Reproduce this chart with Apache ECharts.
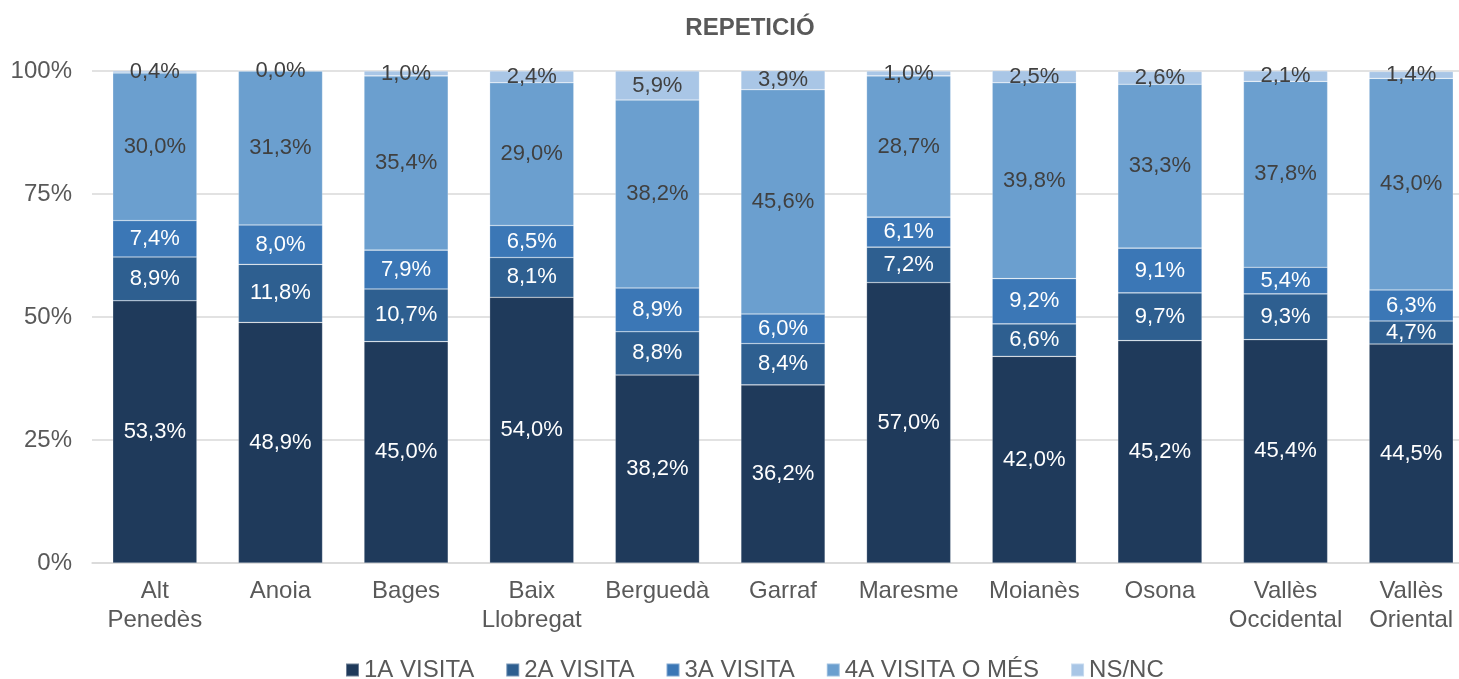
<!DOCTYPE html>
<html>
<head>
<meta charset="utf-8">
<script src="https://cdn.jsdelivr.net/npm/echarts@6/dist/echarts.min.js"></script>
<style>
  html, body { margin: 0; padding: 0; background: #fff; overflow: hidden; }
  #chart { width: 1474px; height: 679px; }
</style>
</head>
<body>
<div id="chart"></div>
<script>
// comarques
const categories = ['Alt\nPenedès', 'Anoia', 'Bages', 'Baix\nLlobregat', 'Berguedà', 'Garraf',
  'Maresme', 'Moianès', 'Osona', 'Vallès\nOccidental', 'Vallès\nOriental'];

const visita1 = [53.3, 48.9, 45.0, 54.0, 38.2, 36.2, 57.0, 42.0, 45.2, 45.4, 44.5];
const visita2 = [8.9, 11.8, 10.7, 8.1, 8.8, 8.4, 7.2, 6.6, 9.7, 9.3, 4.7];
const visita3 = [7.4, 8.0, 7.9, 6.5, 8.9, 6.0, 6.1, 9.2, 9.1, 5.4, 6.3];
const visita4 = [30.0, 31.3, 35.4, 29.0, 38.2, 45.6, 28.7, 39.8, 33.3, 37.8, 43.0];
const nsnc = [0.4, 0.0, 1.0, 2.4, 5.9, 3.9, 1.0, 2.5, 2.6, 2.1, 1.4];

const yTicks = [0, 25, 50, 75, 100];

const FONT = '"Liberation Sans", Arial, sans-serif';
const GREY = '#595959';

function pct(v) {
  return v.toFixed(1).replace('.', ',') + '%';
}

function makeSeries(name, data, color, labelColor) {
  return {
    name: name,
    type: 'bar',
    stack: 'total',
    barCategoryGap: '33%',
    data: data,
    itemStyle: { color: color, borderColor: 'rgba(255,255,255,0.35)', borderWidth: 0.6 },
    label: {
      show: true,
      position: 'inside',
      color: labelColor,
      fontFamily: FONT,
      fontSize: 22,
      formatter: p => pct(p.value)
    }
  };
}

let myChart = echarts.init(document.getElementById('chart'));

// the plot runs past the right edge of the window, like in the original
myChart.setOption({
  animation: false,
  title: {
    text: 'REPETICIÓ',
    left: 745,
    textAlign: 'center',
    top: 11,
    textStyle: { fontFamily: FONT, fontSize: 24, fontWeight: 'bold', color: GREY }
  },
  legend: {
    bottom: -8,
    left: 340,
    itemWidth: 13,
    itemHeight: 13,
    itemGap: 31,
    icon: 'rect',
    textStyle: { fontFamily: FONT, fontSize: 24, color: GREY },
    data: ['1A VISITA', '2A VISITA', '3A VISITA', '4A VISITA O MÉS', 'NS/NC']
  },
  grid: { left: 92, right: 0, top: 71, bottom: 116, containLabel: false },
  xAxis: {
    type: 'category',
    data: categories,
    axisTick: { show: false },
    axisLine: { lineStyle: { color: '#d9d9d9', width: 1.5 } },
    axisLabel: {
      fontFamily: FONT, fontSize: 24, color: GREY, margin: 14, lineHeight: 29, interval: 0
    }
  },
  yAxis: {
    type: 'value',
    min: yTicks[0],
    max: yTicks[yTicks.length - 1],
    interval: 25,
    axisLine: { show: false },
    axisTick: { show: false },
    splitLine: { lineStyle: { color: '#d9d9d9', width: 1.5 } },
    axisLabel: {
      fontFamily: FONT, fontSize: 24, color: GREY, margin: 20,
      formatter: v => v + '%'
    }
  },
  series: [
    makeSeries('1A VISITA', visita1, '#1f3a5b', '#ffffff'),
    makeSeries('2A VISITA', visita2, '#2e5f90', '#ffffff'),
    makeSeries('3A VISITA', visita3, '#3b77b6', '#ffffff'),
    makeSeries('4A VISITA O MÉS', visita4, '#6b9fcf', '#404040'),
    makeSeries('NS/NC', nsnc, '#a9c6e6', '#404040')
  ]
});
</script>
</body>
</html>
